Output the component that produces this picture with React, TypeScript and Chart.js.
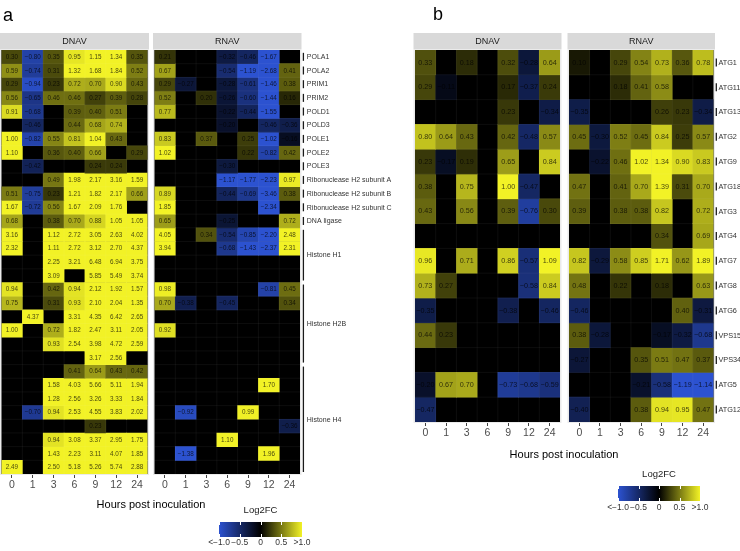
import React, { useEffect, useRef } from 'react';
import { Chart, registerables } from 'chart.js';

Chart.register(...registerables);

const FONT = '"Liberation Sans", Arial, Helvetica, sans-serif';
const W = 740;
const H = 551;

// ---------------- data ----------------
const hours = ['0', '1', '3', '6', '9', '12', '24'];

const aRowLabels = [
  'POLA1', 'POLA2', 'PRIM1', 'PRIM2', 'POLD1', 'POLD3', 'POLE1', 'POLE2', 'POLE3',
  'Ribonuclease H2 subunit A', 'Ribonuclease H2 subunit B', 'Ribonuclease H2 subunit C', 'DNA ligase',
  'Histone H1', 'Histone H1', 'Histone H1', 'Histone H1',
  'Histone H2B', 'Histone H2B', 'Histone H2B', 'Histone H2B', 'Histone H2B', 'Histone H2B',
  'Histone H4', 'Histone H4', 'Histone H4', 'Histone H4', 'Histone H4', 'Histone H4', 'Histone H4', 'Histone H4',
];

const aDnav: (number | null)[][] = [
  [0.30, -0.80, 0.35, 0.95, 1.15, 1.34, 0.35],
  [0.59, -0.74, 0.31, 1.32, 1.68, 1.84, 0.52],
  [0.29, -0.94, 0.23, 0.72, 0.70, 0.90, 0.43],
  [0.56, -0.65, 0.46, 0.46, 0.27, 0.39, 0.28],
  [0.91, -0.68, null, 0.39, 0.40, 0.51, null],
  [null, -0.46, null, 0.44, 0.68, 0.74, null],
  [1.00, -0.82, 0.55, 0.81, 1.04, 0.43, null],
  [1.10, null, 0.36, 0.40, 0.66, null, 0.29],
  [null, -0.42, null, null, 0.24, 0.24, null],
  [null, null, 0.49, 1.98, 2.17, 3.16, 1.59],
  [0.51, -0.75, 0.23, 1.21, 1.82, 2.17, 0.66],
  [1.67, -0.72, 0.56, 1.67, 2.09, 1.76, null],
  [0.68, null, 0.38, 0.70, 0.88, 1.05, 1.05],
  [3.16, null, 1.12, 2.72, 3.05, 2.63, 4.02],
  [2.32, null, 1.11, 2.72, 3.12, 2.70, 4.37],
  [null, null, 2.25, 3.21, 6.48, 6.94, 3.75],
  [null, null, 3.09, null, 5.85, 5.49, 3.74],
  [0.94, null, 0.42, 0.94, 2.12, 1.92, 1.57],
  [0.75, null, 0.31, 0.93, 2.10, 2.04, 1.35],
  [null, 4.37, null, 3.31, 4.35, 6.42, 2.65],
  [1.00, null, 0.72, 1.82, 2.47, 3.11, 2.05],
  [null, null, 0.93, 2.54, 3.98, 4.72, 2.59],
  [null, null, null, null, 3.17, 2.56, -0.00],
  [null, null, null, 0.41, 0.64, 0.43, 0.42],
  [null, null, 1.58, 4.03, 5.66, 5.11, 1.94],
  [null, null, 1.28, 2.56, 3.26, 3.33, 1.84],
  [null, -0.70, 0.94, 2.53, 4.55, 3.83, 2.02],
  [null, null, null, null, 0.23, null, null],
  [null, null, 0.94, 3.08, 3.37, 2.95, 1.75],
  [null, null, 1.43, 2.23, 3.11, 4.07, 1.85],
  [2.49, null, 2.50, 5.18, 5.26, 5.74, 2.88],
];

const aRnav: (number | null)[][] = [
  [0.21, null, null, -0.32, -0.46, -1.67, null],
  [0.67, null, null, -0.54, -1.19, -2.68, 0.41],
  [0.29, -0.27, null, -0.28, -0.61, -1.46, 0.38],
  [0.52, null, 0.20, -0.26, -0.60, -1.44, 0.16],
  [0.77, null, null, -0.22, -0.44, -1.55, null],
  [null, null, null, -0.20, null, -0.46, -0.36],
  [0.83, null, 0.37, null, 0.25, -1.02, -0.16],
  [1.02, null, null, null, 0.22, -0.82, 0.42],
  [null, null, null, -0.30, null, null, null],
  [null, null, null, -1.17, -1.77, -2.23, 0.97],
  [0.89, null, null, -0.44, -0.69, -3.46, 0.38],
  [1.85, null, null, null, null, -2.34, null],
  [0.65, null, null, -0.25, null, null, 0.72],
  [4.05, null, 0.34, -0.54, -0.85, -2.20, 2.48],
  [3.94, null, null, -0.68, -1.43, -2.37, 2.31],
  [null, null, null, null, null, null, null],
  [null, null, null, null, null, null, null],
  [0.98, null, null, null, null, -0.81, 0.45],
  [0.70, -0.38, null, -0.45, null, null, 0.34],
  [null, null, null, null, null, null, null],
  [0.92, null, null, null, null, null, null],
  [null, null, null, null, null, null, null],
  [null, null, null, null, null, null, null],
  [null, null, null, null, null, null, null],
  [null, null, null, null, null, 1.70, null],
  [null, null, null, null, null, null, null],
  [null, -0.92, null, null, 0.99, null, null],
  [null, null, null, null, null, null, -0.36],
  [null, null, null, 1.10, null, null, null],
  [null, -1.38, null, null, null, 1.96, null],
  [null, null, null, null, null, null, null],
];

const bRowLabels = [
  'ATG1', 'ATG11', 'ATG13', 'ATG2', 'ATG9', 'ATG18', 'ATG3', 'ATG4',
  'ATG7', 'ATG8', 'ATG6', 'VPS15', 'VPS34', 'ATG5', 'ATG12',
];

const bDnav: (number | null)[][] = [
  [0.33, null, 0.18, null, 0.32, -0.28, 0.64],
  [0.29, -0.11, null, null, 0.17, -0.37, 0.24],
  [null, null, null, null, 0.23, null, -0.34],
  [0.80, 0.64, 0.43, null, 0.42, -0.48, 0.57],
  [0.23, -0.17, 0.19, null, 0.65, null, 0.84],
  [0.38, null, 0.75, null, 1.00, -0.47, null],
  [0.43, null, 0.56, null, 0.39, -0.76, 0.30],
  [null, null, null, null, null, null, null],
  [0.96, null, 0.71, null, 0.86, -0.57, 1.09],
  [0.73, 0.27, null, null, null, -0.58, 0.84],
  [-0.35, null, null, null, -0.38, null, -0.46],
  [0.44, 0.23, null, null, null, null, null],
  [null, null, null, null, null, null, null],
  [-0.20, 0.67, 0.70, null, -0.73, -0.68, -0.59],
  [-0.47, null, null, null, null, null, null],
];

const bRnav: (number | null)[][] = [
  [0.10, null, 0.29, 0.54, 0.73, 0.36, 0.78],
  [null, null, 0.18, 0.41, 0.58, null, null],
  [-0.35, null, null, null, 0.26, 0.23, -0.34],
  [0.45, -0.30, 0.52, 0.45, 0.84, 0.25, 0.57],
  [null, -0.22, 0.46, 1.02, 1.34, 0.90, 0.83],
  [0.47, null, 0.41, 0.70, 1.39, 0.31, 0.70],
  [0.39, null, 0.38, 0.38, 0.82, null, 0.72],
  [null, null, null, null, 0.34, null, 0.69],
  [0.82, -0.29, 0.58, 0.85, 1.71, 0.62, 1.89],
  [0.48, null, 0.22, null, 0.18, null, 0.63],
  [-0.46, null, null, null, null, 0.40, -0.31],
  [0.38, -0.28, null, null, -0.17, -0.32, -0.68],
  [-0.27, null, null, 0.35, 0.51, 0.47, 0.37],
  [null, null, null, -0.21, -0.58, -1.19, -1.14],
  [-0.40, null, null, 0.38, 0.94, 0.95, 0.47],
];

const legendValues = [-1, -0.5, 0, 0.5, 1];
const legendLabels = ['<\u22121.0', '\u22120.5', '0', '0.5', '>1.0'];

// ---------------- styling ----------------
const LOW = [44, 82, 208];
const HIGH = [242, 242, 38];

function fillColor(v: number | null): string {
  if (v == null) return 'rgba(0,0,0,0)';
  const t = Math.max(-1, Math.min(1, v));
  const end = t < 0 ? LOW : HIGH;
  const k = Math.abs(t);
  return `rgb(${end.map((c) => Math.round(c * k)).join(',')})`;
}

function fmt(v: number): string {
  const neg = v < 0 || Object.is(v, -0);
  return (neg ? '\u2212' : '') + Math.abs(v).toFixed(2);
}

const STRIP_TOP = 33;
const AXIS_H = 22;

interface Extras {
  letter: string;
  letterX: number;
  letterY: number;
  titleX: number;
  titleY: number;
  legX0: number;
  legX1: number;
  legTitleY: number;
  legTop: number;
  legBottom: number;
  legLabelY: number;
}

interface FacetSpec {
  key: string;
  title: string;
  values: (number | null)[][];
  l: number;
  r: number;
  t: number;
  b: number;
  cellFont: number;
  rowLabels?: string[];
  labelFont?: number;
  barX?: number;
  textX?: number;
  extras?: Extras;
}

const facets: FacetSpec[] = [
  { key: 'aD', title: 'DNAV', values: aDnav, l: 1.5, r: 147.5, t: 50, b: 474, cellFont: 6.3 },
  {
    key: 'aR', title: 'RNAV', values: aRnav, l: 154.5, r: 300, t: 50, b: 474, cellFont: 6.3,
    rowLabels: aRowLabels, labelFont: 7, barX: 303.4, textX: 306.8,
    extras: {
      letter: 'a', letterX: 3, letterY: 21, titleX: 151, titleY: 505,
      legX0: 219, legX1: 302, legTitleY: 510, legTop: 522, legBottom: 537, legLabelY: 543,
    },
  },
  { key: 'bD', title: 'DNAV', values: bDnav, l: 415, r: 560, t: 50, b: 422, cellFont: 7.2 },
  {
    key: 'bR', title: 'RNAV', values: bRnav, l: 569, r: 713.5, t: 50, b: 422, cellFont: 7.2,
    rowLabels: bRowLabels, labelFont: 7.3, barX: 716.3, textX: 718.4,
    extras: {
      letter: 'b', letterX: 433, letterY: 20, titleX: 564, titleY: 455,
      legX0: 618, legX1: 700, legTitleY: 474, legTop: 486, legBottom: 501, legLabelY: 508,
    },
  },
];

function drawExtras(ctx: CanvasRenderingContext2D, e: Extras) {
  ctx.save();
  ctx.fillStyle = '#000';
  ctx.textBaseline = 'alphabetic';
  ctx.textAlign = 'left';
  ctx.font = `18px ${FONT}`;
  ctx.fillText(e.letter, e.letterX, e.letterY);

  ctx.textAlign = 'center';
  ctx.textBaseline = 'middle';
  ctx.font = `11px ${FONT}`;
  ctx.fillText('Hours post inoculation', e.titleX, e.titleY);

  // colour bar legend
  ctx.font = `9.5px ${FONT}`;
  ctx.fillStyle = '#1a1a1a';
  ctx.fillText('Log2FC', (e.legX0 + e.legX1) / 2, e.legTitleY);
  const grad = ctx.createLinearGradient(e.legX0, 0, e.legX1, 0);
  for (let i = 0; i <= 40; i++) {
    const v = -1 + (2 * i) / 40;
    grad.addColorStop(i / 40, fillColor(v));
  }
  ctx.fillStyle = grad;
  ctx.fillRect(e.legX0, e.legTop, e.legX1 - e.legX0, e.legBottom - e.legTop);
  const span = e.legX1 - e.legX0;
  ctx.strokeStyle = '#fff';
  ctx.lineWidth = 1;
  ctx.font = `8.5px ${FONT}`;
  ctx.fillStyle = '#333';
  legendValues.forEach((v, i) => {
    const x = e.legX0 + ((v + 1) / 2) * span;
    const xs = Math.round(x) + 0.5;
    ctx.beginPath();
    ctx.moveTo(xs, e.legTop);
    ctx.lineTo(xs, e.legTop + 3);
    ctx.moveTo(xs, e.legBottom - 3);
    ctx.lineTo(xs, e.legBottom);
    ctx.stroke();
    ctx.fillText(legendLabels[i], x, e.legLabelY);
  });
  ctx.restore();
}

function makePlugin(spec: FacetSpec) {
  return {
    id: 'facet_' + spec.key,
    beforeDatasetsDraw(chart: any) {
      const { ctx, chartArea: a } = chart;
      ctx.save();
      ctx.fillStyle = '#ebebeb';
      ctx.fillRect(a.left - 1.5, a.top - 1, a.width + 3, a.height + 2);
      ctx.fillStyle = '#d9d9d9';
      ctx.fillRect(a.left - 1.5, STRIP_TOP, a.width + 3, a.top - 1 - STRIP_TOP);
      ctx.fillStyle = '#1a1a1a';
      ctx.font = `9px ${FONT}`;
      ctx.textAlign = 'center';
      ctx.textBaseline = 'middle';
      ctx.fillText(spec.title, (a.left + a.right) / 2, (STRIP_TOP + a.top - 1) / 2 + 0.5);
      ctx.fillStyle = '#000';
      ctx.fillRect(a.left, a.top, a.width, a.height);
      ctx.restore();
    },
    afterDatasetsDraw(chart: any) {
      const { ctx, chartArea: a } = chart;
      const xs = chart.scales.x;
      const ys = chart.scales.y;
      const n = spec.values.length;
      ctx.save();
      // faint tile boundaries
      ctx.strokeStyle = 'rgba(255,255,255,0.09)';
      ctx.lineWidth = 0.6;
      ctx.beginPath();
      for (let i = 0; i < hours.length - 1; i++) {
        const x = (xs.getPixelForValue(i) + xs.getPixelForValue(i + 1)) / 2;
        ctx.moveTo(x, a.top);
        ctx.lineTo(x, a.bottom);
      }
      for (let r = 1; r < n; r++) {
        const y = ys.getPixelForValue(r);
        ctx.moveTo(a.left, y);
        ctx.lineTo(a.right, y);
      }
      ctx.stroke();

      // cell values
      ctx.font = `${spec.cellFont}px ${FONT}`;
      ctx.textAlign = 'center';
      ctx.textBaseline = 'middle';
      ctx.fillStyle = 'rgba(0,0,0,0.72)';
      spec.values.forEach((row, r) => {
        const meta = chart.getDatasetMeta(r);
        meta.data.forEach((el: any, c: number) => {
          const v = row[c];
          if (v == null) return;
          const p = el.getProps(['x', 'y', 'base'], true);
          ctx.fillText(fmt(v), p.x, (p.y + p.base) / 2 + 0.3);
        });
      });

      // row labels
      if (spec.rowLabels) {
        const labels = spec.rowLabels;
        ctx.font = `${spec.labelFont}px ${FONT}`;
        ctx.textAlign = 'left';
        ctx.fillStyle = '#333';
        ctx.strokeStyle = '#1a1a1a';
        ctx.lineWidth = 1.3;
        let s = 0;
        while (s < labels.length) {
          let e = s;
          while (e + 1 < labels.length && labels[e + 1] === labels[s]) e++;
          const top = ys.getPixelForValue(s);
          const bot = ys.getPixelForValue(e + 1);
          const mid = (top + bot) / 2;
          let y0: number;
          let y1: number;
          if (e === s) {
            y0 = mid - 4;
            y1 = mid + 4;
          } else {
            y0 = top + 2;
            y1 = bot - 2;
          }
          ctx.beginPath();
          ctx.moveTo(spec.barX!, y0);
          ctx.lineTo(spec.barX!, y1);
          ctx.stroke();
          ctx.fillText(labels[s], spec.textX!, mid + 0.3);
          s = e + 1;
        }
      }
      ctx.restore();
      if (spec.extras) drawExtras(ctx, spec.extras);
    },
  };
}

function buildConfig(spec: FacetSpec): any {
  const n = spec.values.length;
  const datasets = spec.values.map((row, r) => ({
    label: 'row' + r,
    data: row.map((v) => (v == null ? null : [r, r + 1])),
    backgroundColor: row.map((v) => fillColor(v)),
    borderWidth: 0,
    barPercentage: 1,
    categoryPercentage: 1,
    grouped: false,
  }));
  return {
    type: 'bar',
    data: { labels: hours, datasets },
    options: {
      responsive: false,
      maintainAspectRatio: false,
      animation: false,
      events: [],
      layout: {
        padding: { left: spec.l, right: W - spec.r, top: spec.t, bottom: H - spec.b - AXIS_H },
      },
      plugins: {
        legend: { display: false },
        tooltip: { enabled: false },
      },
      scales: {
        x: {
          type: 'category',
          offset: true,
          grid: {
            display: true,
            offset: false,
            drawOnChartArea: false,
            drawTicks: true,
            tickLength: 4,
            color: '#444',
            lineWidth: 1,
          },
          border: { display: false },
          ticks: {
            color: '#4d4d4d',
            font: { family: FONT, size: 10.5 },
            padding: 1,
            maxRotation: 0,
            autoSkip: false,
          },
          afterFit: (s: any) => {
            s.height = AXIS_H;
          },
        },
        y: { type: 'linear', min: 0, max: n, reverse: true, display: false },
      },
    },
    plugins: [makePlugin(spec)],
  };
}

function FacetCanvas({ spec }: { spec: FacetSpec }) {
  const ref = useRef<HTMLCanvasElement>(null);
  useEffect(() => {
    if (!ref.current) return;
    const chart = new Chart(ref.current, buildConfig(spec));
    return () => chart.destroy();
  }, [spec]);
  return (
    <canvas
      ref={ref}
      width={W}
      height={H}
      style={{ position: 'absolute', left: 0, top: 0, width: W, height: H }}
    />
  );
}

export default function App() {
  return (
    <div
      style={{
        position: 'fixed',
        left: 0,
        top: 0,
        width: W,
        height: H,
        background: '#fff',
        overflow: 'hidden',
      }}
    >
      {facets.map((f) => (
        <FacetCanvas key={f.key} spec={f} />
      ))}
    </div>
  );
}
